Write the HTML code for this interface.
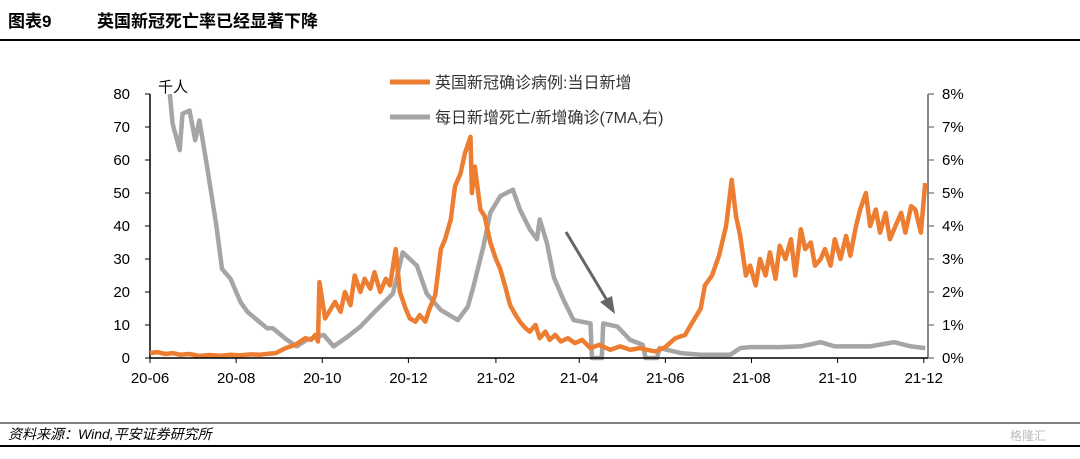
<!DOCTYPE html>
<html><head><meta charset="utf-8"><style>
body{margin:0;width:1080px;height:454px;background:#fff;overflow:hidden;font-family:"Liberation Sans","Noto Sans CJK SC",sans-serif;}
svg text{font-family:"Liberation Sans","Noto Sans CJK SC",sans-serif;}
</style></head><body>
<svg id="c" width="1080" height="454">
<text x="8" y="27" font-size="17" font-weight="bold">图表9</text>
<text x="97" y="27" font-size="17" font-weight="bold">英国新冠死亡率已经显著下降</text>
<line x1="0" y1="40" x2="1080" y2="40" stroke="#000" stroke-width="2"/>
<text x="158" y="92" font-size="15">千人</text>
<g>
<line x1="390" y1="82" x2="430" y2="82" stroke="#ED7D31" stroke-width="5"/>
<text x="435" y="88" font-size="16" fill="#333">英国新冠确诊病例:当日新增</text>
<line x1="390" y1="117" x2="430" y2="117" stroke="#A5A5A5" stroke-width="5"/>
<text x="435" y="123" font-size="16" fill="#333">每日新增死亡/新增确诊(7MA,右)</text>
</g>
<g id="plot"></g>
<line x1="566" y1="232" x2="608" y2="302" stroke="#666" stroke-width="3"/>
<polygon points="615,314 600,302 612,296" fill="#666"/>
<line x1="0" y1="423" x2="1080" y2="423" stroke="#000" stroke-width="1"/>
<text x="8" y="439" font-size="14" font-style="italic">资料来源：Wind,平安证券研究所</text>
<text x="1010" y="440" font-size="12" fill="#bbb">格隆汇</text>
<line x1="0" y1="446" x2="1080" y2="446" stroke="#000" stroke-width="2"/>
</svg>
<script>
const xTickLabels=["20-06","20-08","20-10","20-12","21-02","21-04","21-06","21-08","21-10","21-12"];
const xTickDays=[0,61,122,183,245,304,365,426,487,548];
const leftTicks=[0,10,20,30,40,50,60,70,80];
const rightTicks=["0%","1%","2%","3%","4%","5%","6%","7%","8%"];
const caseDays=[0,5,11,16,21,28,35,42,50,57,64,71,78,84,89,96,103,110,114,117,119,120,124,131,135,138,142,145,149,152,156,159,163,167,170,174,177,181,184,188,191,195,198,202,206,209,213,216,220,223,227,228,230,234,237,241,245,248,252,255,259,262,266,269,273,276,280,283,287,291,296,301,306,312,318,326,333,340,347,352,358,365,372,379,383,390,393,398,403,408,412,415,418,422,425,429,432,436,439,443,446,450,454,457,461,464,468,471,475,478,482,485,489,493,496,500,503,507,510,514,517,521,524,528,532,535,539,542,546,549];
const caseValues=[1.5,1.8,1.2,1.5,1,1.2,0.6,0.9,0.7,1,0.8,1.1,1,1.3,1.5,3,4,6,5.5,7,5,23,12,17,14,20,16,25,20,24,21,26,20,24,22,33,20,15,12,11,13,11,15,19,33,36,42,52,56,62,67,50,58,45,43,35,30,27,21,16,13,11,9,8,10,6,8,5.5,7,5,6,4.5,5.5,3,4,2.5,3.5,2.5,3,2.5,2,3.3,6,7,10,15,22,25,31,40,54,43,37,25,28,22,30,25,32,24,34,30,36,25,39,33,35,28,30,33,28,36,30,37,31,40,45,50,40,45,38,44,36,40,44,38,46,45,38,53];
const ratioDays=[14,16,21,23,28,32,35,40,43,47,51,57,64,69,76,83,87,97,104,111,123,130,140,149,158,165,172,179,189,196,206,218,225,229,236,241,248,257,262,269,274,276,281,286,293,300,312,313,320,321,331,340,349,351,359,361,376,390,411,418,425,446,461,475,485,510,527,539,549];
const ratioValues=[8.0,7.1,6.3,7.4,7.5,6.6,7.2,5.9,5.1,4.0,2.7,2.4,1.7,1.4,1.15,0.9,0.9,0.55,0.35,0.55,0.7,0.35,0.65,0.95,1.35,1.65,1.95,3.2,2.8,1.95,1.45,1.15,1.55,2.15,3.35,4.4,4.9,5.1,4.5,3.9,3.6,4.2,3.5,2.45,1.75,1.15,1.05,0,0,1.05,0.95,0.55,0.4,0,0,0.3,0.15,0.1,0.1,0.3,0.33,0.33,0.35,0.48,0.35,0.35,0.48,0.35,0.3];
const X0=150,X1=928,Y0=358,Y1=94,D1=551;
const xs=d=>X0+(X1-X0)*d/D1;
const yl=v=>Y0-(Y0-Y1)*v/80;
const yr=v=>Y0-(Y0-Y1)*v/8;
const NS="http://www.w3.org/2000/svg";
const g=document.getElementById('plot');
function mk(t,a){const e=document.createElementNS(NS,t);for(const k in a)e.setAttribute(k,a[k]);g.appendChild(e);return e;}
let ax=mk('line',{x1:X0,y1:Y1,x2:X0,y2:Y0,stroke:'#000','stroke-width':1.5});


ax=mk('line',{x1:X1,y1:Y1,x2:X1,y2:Y0,stroke:'#888','stroke-width':2});


leftTicks.forEach((v,i)=>{
 const y=yl(v);
 mk('line',{x1:X0-5,y1:y,x2:X0,y2:y,stroke:'#000'});
 const t=mk('text',{x:X0-20,y:y+5,'font-size':15,'text-anchor':'end'});t.textContent=v;
 
 
 const ry=yr(i);
 mk('line',{x1:X1,y1:ry,x2:X1+6,y2:ry,stroke:'#888','stroke-width':1.5});
 const r=mk('text',{x:X1+14,y:ry+5,'font-size':15});r.textContent=rightTicks[i];
 
 
});
xTickLabels.forEach((l,i)=>{
 const x=xs(xTickDays[i]);
 mk('line',{x1:x,y1:Y0,x2:x,y2:Y0+5,stroke:'#000'});
 const t=mk('text',{x:x,y:Y0+25,'font-size':15,'text-anchor':'middle'});t.textContent=l;
 
 
});
let p=mk('path',{d:ratioDays.map((d,i)=>(i?'L':'M')+xs(d).toFixed(1)+','+yr(ratioValues[i]).toFixed(1)).join(''),fill:'none',stroke:'#A5A5A5','stroke-width':4.5,'stroke-linejoin':'round'});


p=mk('path',{d:caseDays.map((d,i)=>(i?'L':'M')+xs(d).toFixed(1)+','+yl(caseValues[i]).toFixed(1)).join(''),fill:'none',stroke:'#ED7D31','stroke-width':4.5,'stroke-linejoin':'round'});


ax=mk('line',{x1:X0,y1:Y0,x2:X1,y2:Y0,stroke:'#000','stroke-width':1.5});


</script>
</body></html>
